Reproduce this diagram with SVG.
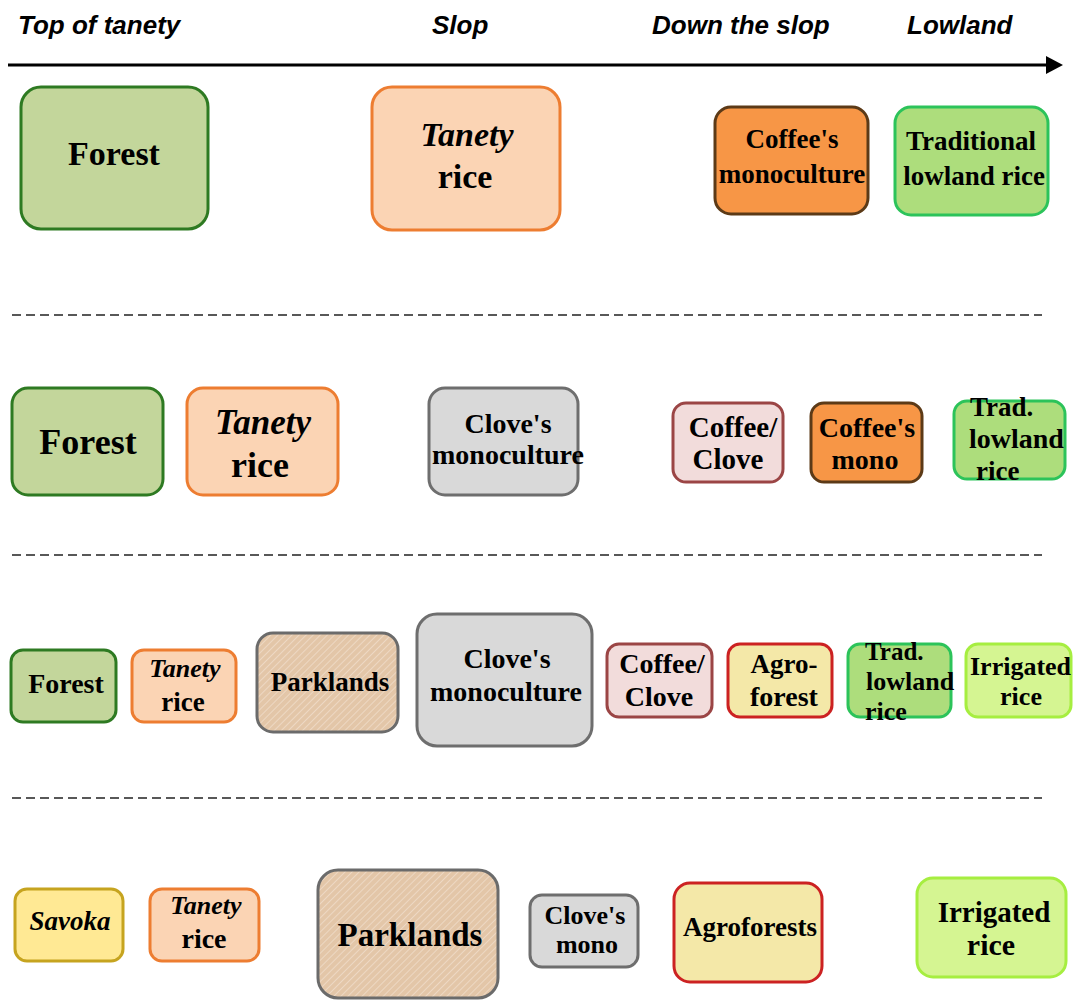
<svg xmlns="http://www.w3.org/2000/svg" width="1075" height="1000" viewBox="0 0 1075 1000">
<style>
.hdr{font-family:"Liberation Sans",Arial,sans-serif;font-weight:bold;font-style:italic;font-size:26px;fill:#000}
.t{font-family:"Liberation Serif","Times New Roman",serif;font-weight:bold;fill:#000;text-anchor:middle}
.s{text-anchor:start}
.i{font-style:italic}
.sep{stroke:#222;stroke-width:1.5;stroke-dasharray:9 5;fill:none}
.forest{fill:#c3d69b;stroke:#2e7a22;stroke-width:3}
.tanety{fill:#fbd4b4;stroke:#ed7d31;stroke-width:3}
.coffee{fill:#f79646;stroke:#5c3a17;stroke-width:3}
.trad{fill:#addd7c;stroke:#2cc35a;stroke-width:3}
.clove{fill:#d9d9d9;stroke:#6e6e6e;stroke-width:3}
.cc{fill:#f2dcdb;stroke:#9b4545;stroke-width:3}
.agro{fill:#f4e8a8;stroke:#cc2222;stroke-width:3}
.irr{fill:#d5f592;stroke:#a6ee40;stroke-width:3}
.sav{fill:#ffe994;stroke:#c6a41f;stroke-width:3}
.park{fill:url(#hatch);stroke:#6b6b6b;stroke-width:3}
</style>
<defs>
<pattern id="hatch" width="5" height="5" patternUnits="userSpaceOnUse" patternTransform="rotate(45)">
<rect width="5" height="5" fill="#e3c6a8"/>
<line x1="0" y1="0" x2="0" y2="5" stroke="#f1dfcc" stroke-width="1.5"/>
</pattern>
</defs>
<rect width="1075" height="1000" fill="#fff"/>

<g id="header">
<text class="hdr" x="18" y="34">Top of tanety</text>
<text class="hdr" x="432" y="34">Slop</text>
<text class="hdr" x="652" y="34">Down the slop</text>
<text class="hdr" x="907" y="34">Lowland</text>
</g>

<g id="connectors">
<line x1="8" y1="65" x2="1050" y2="65" stroke="#000" stroke-width="3"/>
<path d="M1046,56 L1063,65 L1046,74 z" fill="#000"/>
<line class="sep" x1="12" y1="315" x2="1042" y2="315"/>
<line class="sep" x1="12" y1="555" x2="1042" y2="555"/>
<line class="sep" x1="12" y1="798" x2="1042" y2="798"/>
</g>

<!-- Row 1 -->
<g id="r1-forest"><rect class="forest" x="21" y="87" width="187" height="142" rx="20"/><text class="t" x="114" y="165" font-size="34">Forest</text></g>
<g id="r1-tanety"><rect class="tanety" x="372" y="87" width="188" height="143" rx="20"/><text class="t i" x="467" y="146" font-size="34">Tanety</text><text class="t" x="465" y="188" font-size="34">rice</text></g>
<g id="r1-coffee"><rect class="coffee" x="715" y="107" width="153" height="107" rx="16"/><text class="t" x="792" y="148" font-size="27">Coffee's</text><text class="t" x="792" y="183" font-size="27">monoculture</text></g>
<g id="r1-trad"><rect class="trad" x="895" y="107" width="153" height="108" rx="16"/><text class="t" x="971" y="150" font-size="27">Traditional</text><text class="t" x="974" y="185" font-size="27">lowland rice</text></g>

<!-- Row 2 -->
<g id="r2-forest"><rect class="forest" x="12" y="388" width="151" height="107" rx="16"/><text class="t" x="88" y="454" font-size="36">Forest</text></g>
<g id="r2-tanety"><rect class="tanety" x="187" y="388" width="151" height="107" rx="16"/><text class="t i" x="263" y="434" font-size="35">Tanety</text><text class="t" x="260" y="477" font-size="36">rice</text></g>
<g id="r2-clove"><rect class="clove" x="429" y="388" width="149" height="107" rx="16"/><text class="t" x="508" y="433" font-size="28">Clove's</text><text class="t" x="508" y="464" font-size="28">monoculture</text></g>
<g id="r2-cc"><rect class="cc" x="673" y="403" width="110" height="79" rx="13"/><text class="t" x="733" y="437" font-size="29">Coffee/</text><text class="t" x="728" y="469" font-size="29">Clove</text></g>
<g id="r2-coffee"><rect class="coffee" x="811" y="403" width="111" height="79" rx="13"/><text class="t" x="867" y="437" font-size="28">Coffee's</text><text class="t" x="865" y="469" font-size="28">mono</text></g>
<g id="r2-trad"><rect class="trad" x="954" y="401" width="111" height="78" rx="13"/><text class="t s" x="970" y="416" font-size="27">Trad.</text><text class="t s" x="969" y="448" font-size="28">lowland</text><text class="t s" x="976" y="480" font-size="27">rice</text></g>

<!-- Row 3 -->
<g id="r3-forest"><rect class="forest" x="11" y="650" width="105" height="72" rx="12"/><text class="t" x="66" y="693" font-size="28">Forest</text></g>
<g id="r3-tanety"><rect class="tanety" x="132" y="650" width="104" height="72" rx="12"/><text class="t i" x="185" y="677" font-size="26">Tanety</text><text class="t" x="183" y="711" font-size="27">rice</text></g>
<g id="r3-park"><rect class="park" x="257" y="633" width="141" height="99" rx="16"/><text class="t" x="330" y="691" font-size="27">Parklands</text></g>
<g id="r3-clove"><rect class="clove" x="417" y="614" width="175" height="132" rx="20"/><text class="t" x="507" y="668" font-size="28">Clove's</text><text class="t" x="506" y="701" font-size="28">monoculture</text></g>
<g id="r3-cc"><rect class="cc" x="607" y="644" width="105" height="73" rx="12"/><text class="t" x="662" y="673" font-size="28">Coffee/</text><text class="t" x="659" y="706" font-size="28">Clove</text></g>
<g id="r3-agro"><rect class="agro" x="728" y="644" width="104" height="73" rx="12"/><text class="t" x="784" y="673" font-size="27">Agro-</text><text class="t" x="784" y="706" font-size="28">forest</text></g>
<g id="r3-trad"><rect class="trad" x="848" y="644" width="103" height="73" rx="12"/><text class="t s" x="865" y="660" font-size="25">Trad.</text><text class="t s" x="866" y="690" font-size="26">lowland</text><text class="t s" x="865" y="720" font-size="26">rice</text></g>
<g id="r3-irr"><rect class="irr" x="966" y="644" width="105" height="73" rx="12"/><text class="t s" x="970" y="675" font-size="26">Irrigated</text><text class="t" x="1021" y="705" font-size="26">rice</text></g>

<!-- Row 4 -->
<g id="r4-savoka"><rect class="sav" x="15" y="889" width="108" height="72" rx="12"/><text class="t i" x="70" y="930" font-size="27">Savoka</text></g>
<g id="r4-tanety"><rect class="tanety" x="150" y="889" width="109" height="72" rx="12"/><text class="t i" x="206" y="914" font-size="26">Tanety</text><text class="t" x="204" y="948" font-size="28">rice</text></g>
<g id="r4-park"><rect class="park" x="318" y="870" width="180" height="128" rx="20"/><text class="t" x="410" y="946" font-size="33">Parklands</text></g>
<g id="r4-clove"><rect class="clove" x="530" y="895" width="108" height="72" rx="12"/><text class="t" x="585" y="924" font-size="26">Clove's</text><text class="t" x="587" y="953" font-size="26">mono</text></g>
<g id="r4-agro"><rect class="agro" x="674" y="883" width="148" height="99" rx="16"/><text class="t" x="750" y="936" font-size="27">Agroforests</text></g>
<g id="r4-irr"><rect class="irr" x="917" y="878" width="149" height="99" rx="16"/><text class="t" x="994" y="922" font-size="29">Irrigated</text><text class="t" x="991" y="955" font-size="30">rice</text></g>
</svg>
